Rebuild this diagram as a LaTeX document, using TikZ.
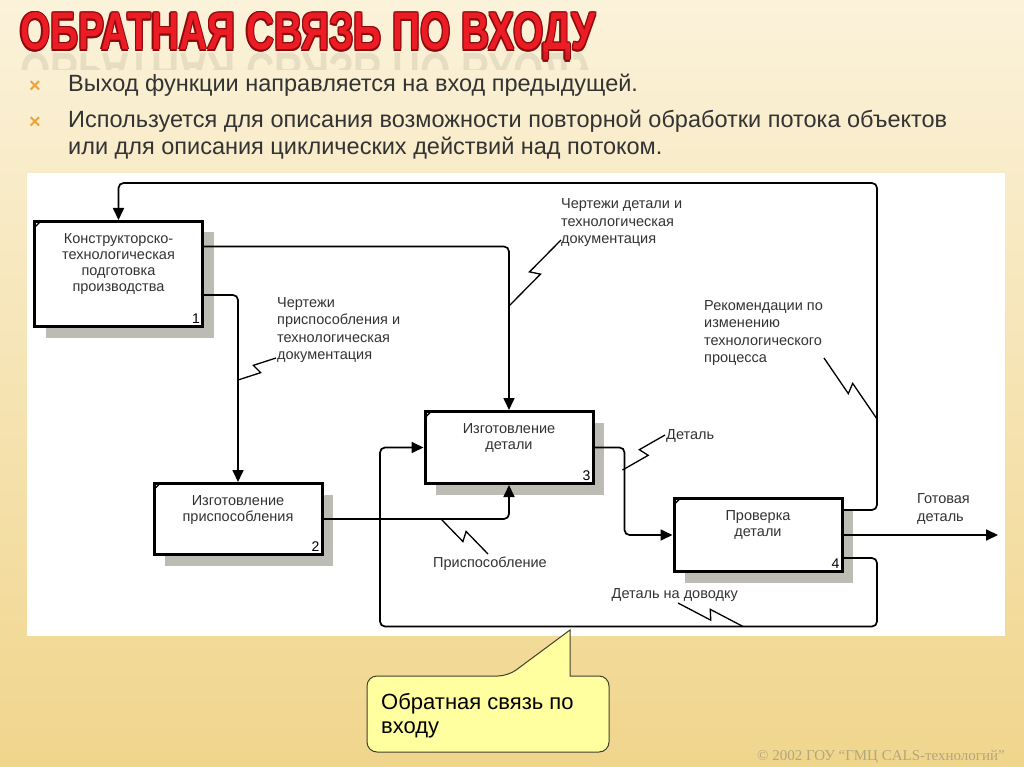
\documentclass[tikz,border=0pt]{standalone}
\usepackage{fontspec}
\setmainfont{Liberation Sans}
\newfontfamily\footerfont{Liberation Serif}
\usepackage{tikz}
\usetikzlibrary{positioning, calc, arrows.meta, shadows}
\usepackage{xcolor}
\definecolor{slidetop}{HTML}{FBF2DA}
\definecolor{slidebottom}{HTML}{F0D58C}
\definecolor{titlered}{HTML}{EC1C24}
\definecolor{titledark}{HTML}{8C0A0E}
\definecolor{crossorange}{HTML}{E9A43C}
\definecolor{shadowgray}{HTML}{BDBCB4}
\definecolor{noteyellow}{HTML}{FFFFA0}
\definecolor{labelgray}{HTML}{333333}
\definecolor{footergray}{HTML}{B3A67E}

\newcommand{\boxfont}{\fontsize{14.5}{16}\selectfont}
\newcommand{\flowfont}{\fontsize{14.5}{17.5}\selectfont}
\newcommand{\zigline}[2]{%
  \draw[zig] (#1) -- ($(#1)!0.53!(#2)!5pt!-90:(#2)$) -- ($(#1)!0.47!(#2)!5pt!90:(#2)$) -- (#2);}
% red title letters with a dark rim
\newcommand{\rimtext}[1]{%
  {\color{titledark}%
   \rlap{\hspace{1.6pt}#1}\rlap{\hspace{-1.6pt}#1}%
   \rlap{\raisebox{1.6pt}{#1}}\rlap{\raisebox{-1.6pt}{#1}}%
   \rlap{\hspace{1.1pt}\raisebox{1.1pt}{#1}}\rlap{\hspace{-1.1pt}\raisebox{1.1pt}{#1}}%
   \rlap{\hspace{1.1pt}\raisebox{-1.1pt}{#1}}\rlap{\hspace{-1.1pt}\raisebox{-1.1pt}{#1}}}%
  {\color{titlered}#1}}

\begin{document}
\begin{tikzpicture}[x=1pt, y=-1pt]
        \tikzstyle{func}=[draw, line width=3pt, fill=white, minimum width=168pt, drop shadow={shadow xshift=11pt, shadow yshift=-11pt, fill=shadowgray, opacity=1}]
        \tikzstyle{functext}=[anchor=north, yshift=-13pt, align=center, inner sep=0pt, font=\boxfont, text=labelgray]
        \tikzstyle{numtext}=[anchor=south east, inner sep=4pt, font=\fontsize{14}{16}\selectfont]
        \tikzstyle{flowlabel}=[anchor=north west, align=left, inner sep=0pt, font=\flowfont, text=labelgray]
        \tikzstyle{arrow}=[-{Triangle[length=12pt, width=11pt]}, line width=1.7pt, rounded corners=5pt]
        \tikzstyle{zig}=[line width=1.3pt]
        \tikzstyle{headline}=[anchor=base west, inner sep=0pt, font=\fontsize{53}{60}\bfseries\selectfont, xscale=0.735, transform shape]
        \tikzstyle{bullettext}=[anchor=base west, inner sep=0pt, font=\fontsize{23.5}{26.5}\selectfont, text=labelgray]
        \tikzstyle{cross}=[anchor=center, inner sep=0pt, text=crossorange, font=\fontsize{20}{20}\bfseries\selectfont]

        % slide
        \useasboundingbox (0,0) rectangle (1024,767);
        \fill[top color=slidetop, bottom color=slidebottom] (0,0) rectangle (1024,767);

        % title and its faint reflection
        \node[headline] (ttl) at (20,50) {\rimtext{ОБРАТНАЯ СВЯЗЬ ПО ВХОДУ}};
        \begin{scope}
            \clip (0,53) rectangle (620,70);
            \node[headline, text=black, opacity=0.08, yscale=-1] (ttlmirror) at (20,54) {ОБРАТНАЯ СВЯЗЬ ПО ВХОДУ};
        \end{scope}

        % bullets
        \node[cross] (cross1) at (35,87) {×};
        \node[cross] (cross2) at (35,123) {×};
        \node[bullettext] (point1) at (68,92) {Выход функции направляется на вход предыдущей.};
        \node[bullettext] (point2) at (68,128) {Используется для описания возможности повторной обработки потока объектов};
        \node[bullettext] (point3) at (68,154.5) {или для описания циклических действий над потоком.};

        % diagram panel
        \fill[white] (27,173) rectangle (1005,636);

        \node[func, minimum height=105pt, label={[functext]north:{Конструкторско-\\технологическая\\подготовка\\производства}}, label={[numtext]south east:1}] (kto) at (118.5,274) {};
        \node[func, minimum height=71pt, label={[functext]north:{Изготовление\\приспособления}}, label={[numtext]south east:2}] (fixture) at (238,519) {};
        \node[func, minimum height=72pt, label={[functext]north:{Изготовление\\детали}}, label={[numtext]south east:3}] (part) at (509,447.5) {};
        \node[func, minimum height=73pt, label={[functext]north:{Проверка\\детали}}, label={[numtext]south east:4}] (check) at (758,535) {};

        \foreach \b in {kto, fixture, part, check}
            \draw[line width=1.4pt] ([shift={(1.5,7.5)}]\b.north west) -- ([shift={(7.5,1.5)}]\b.north west);

        \node[flowlabel] (docs) at (561,198.5) {Чертежи детали и\\технологическая\\документация};
        \node[flowlabel] (fixdocs) at (277,297) {Чертежи\\приспособления и\\технологическая\\документация};
        \node[flowlabel] (advice) at (704,300) {Рекомендации по\\изменению\\технологического\\процесса};
        \node[flowlabel, anchor=base] (fixlbl) at (490,567) {Приспособление};
        \node[flowlabel, anchor=base west] (partlbl) at (666,439.5) {Деталь};
        \node[flowlabel] (donelbl) at (917,493.5) {Готовая\\деталь};
        \node[flowlabel, anchor=base west] (reworklbl) at (611.5,598) {Деталь на доводку};

        \coordinate (exit) at (998,535);

        \draw[arrow] ([yshift=-13pt]check.north east) -| (877,183) -| (kto.north);
        \draw[arrow] ([yshift=-26.5pt]kto.north east) -| (part.north);
        \draw[arrow] ([yshift=-75pt]kto.north east) -| (fixture.north);
        \draw[arrow] (fixture.east) -| (part.south);
        \draw[arrow] (part.east) -- ++(30,0) |- (check.west);
        \draw[arrow] (check.east) -- (exit);
        \draw[arrow] ([yshift=15pt]check.south east) -| (877,626.5) -- (380,626.5) |- (part.west);

        % squiggles
        \coordinate (z1a) at (509,306);   \coordinate (z1b) at (561,240);
        \coordinate (z2a) at (238,380);   \coordinate (z2b) at (276,358);
        \coordinate (z3a) at (441,519);   \coordinate (z3b) at (488,554);
        \coordinate (z4a) at (622.5,470); \coordinate (z4b) at (665,435);
        \coordinate (z5a) at (743,626.5); \coordinate (z5b) at (678,603);
        \coordinate (z6a) at (877,419);   \coordinate (z6b) at (824,358);
        \zigline{z1a}{z1b}
        \zigline{z2a}{z2b}
        \zigline{z3a}{z3b}
        \zigline{z4a}{z4b}
        \zigline{z5a}{z5b}
        \zigline{z6a}{z6b}

        % callout
        \draw[fill=noteyellow, draw=black!70!olive, line width=1pt, rounded corners=10pt] (367,676) -- (508,676) [sharp corners] -- (570,630) -- (570,676) [rounded corners=10pt] -- (609,676) -- (609,752) -- (367,752) -- cycle;
        \node[anchor=north west, inner sep=0pt, align=left, font=\fontsize{22}{24}\selectfont] (note) at (381,693.5) {Обратная связь по\\входу};

        % footer
        \node[anchor=base east, inner sep=0pt, text=footergray, font=\footerfont\fontsize{15}{15}\selectfont] (footer) at (1005,760) {© 2002 ГОУ “ГМЦ CALS-технологий”};
\end{tikzpicture}
\end{document}
